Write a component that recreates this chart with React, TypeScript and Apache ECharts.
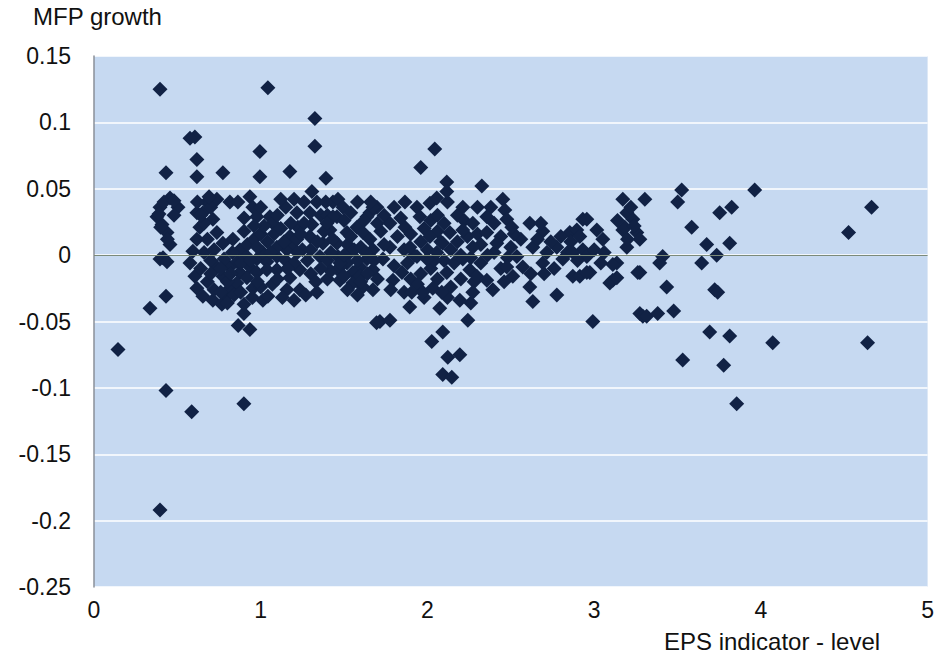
import React, { useEffect, useRef } from "react";
import * as echarts from "echarts";

// Axis ticks
const xTicks = [0, 1, 2, 3, 4, 5];
const yTicks = [-0.25, -0.2, -0.15, -0.1, -0.05, 0, 0.05, 0.1, 0.15];

// Points: [EPS indicator level, MFP growth]
const ptsLeft: number[][] = [
  [0.144, -0.071], [0.336, -0.040], [0.396, 0.125], [0.396, -0.192], [0.432, -0.102],
  [0.432, -0.031], [0.432, 0.062], [0.605, 0.089], [0.576, 0.088], [0.617, 0.072],
  [0.617, 0.059], [0.773, 0.062], [0.586, -0.118], [0.456, 0.043], [0.504, 0.036],
  [0.396, 0.036], [0.378, 0.029], [0.408, 0.023], [0.438, 0.017], [0.456, 0.008],
  [0.414, -0.002], [0.396, -0.003], [0.438, -0.005], [0.617, 0.032],
  [0.42, 0.040], [0.48, 0.041], [0.39, 0.031], [0.40, 0.021], [0.44, 0.012], [0.48, 0.030],
];

const ptsBlobA: number[][] = [
  [0.677, 0.040], [0.737, 0.042], [0.815, 0.040], [0.863, 0.040], [0.935, 0.044],
  [0.953, 0.036], [0.977, 0.029], [1.055, 0.029], [1.073, 0.024], [0.653, 0.032],
  [0.635, 0.021], [0.617, 0.012], [0.593, 0.003], [0.576, -0.006], [0.605, -0.016],
  [0.617, -0.025], [0.653, -0.031], [0.713, -0.034], [0.767, -0.037], [0.797, -0.031],
  [0.815, -0.025], [0.713, 0.027], [0.737, 0.017], [0.773, 0.009], [0.833, 0.012],
  [0.875, 0.004], [0.917, -0.001], [0.977, -0.003], [1.037, -0.005], [1.097, -0.001],
  [1.157, 0.004], [1.193, 0.009], [1.175, 0.014], [1.097, 0.006], [1.013, 0.002],
  [0.935, -0.009], [0.875, -0.013], [0.815, -0.009], [0.737, -0.009], [0.773, -0.016],
  [0.857, -0.021], [0.917, -0.017], [0.977, -0.013], [1.037, -0.011], [1.097, -0.011],
  [0.953, -0.025], [1.013, -0.034], [1.043, -0.031], [1.157, -0.026], [1.235, -0.026],
  [1.337, -0.028], [1.175, -0.017], [1.235, -0.011], [1.217, 0.032], [1.223, 0.021],
  [1.217, 0.012], [1.295, 0.032], [1.307, 0.023], [1.295, 0.014], [1.373, 0.009],
  [1.355, -0.001], [1.337, 0.040], [1.307, 0.048], [1.433, 0.040], [1.457, 0.029],
  [1.415, 0.019], [1.457, 0.009], [1.463, -0.001], [1.463, -0.011],
  [0.995, 0.078], [0.995, 0.059], [1.043, 0.126], [1.325, 0.103], [1.325, 0.082],
  [1.175, 0.063], [1.391, 0.058], [0.899, -0.044], [0.865, -0.053], [0.935, -0.056],
  [0.899, -0.112],
];

const ptsBlobAFill: number[][] = [
  [0.70, 0.036], [0.66, 0.024], [0.68, 0.012], [0.66, 0.002], [0.70, -0.004],
  [0.64, -0.010], [0.68, -0.020], [0.72, -0.026], [0.76, -0.028], [0.80, -0.020],
  [0.84, -0.030], [0.88, -0.028], [0.78, -0.003], [0.83, 0.002], [0.86, -0.005],
  [0.92, 0.008], [0.96, 0.012], [1.00, 0.016], [1.04, 0.010], [1.08, 0.016],
  [1.12, 0.020], [1.14, 0.010], [1.10, 0.030], [1.02, 0.022], [0.96, 0.022],
  [0.90, 0.028], [0.90, 0.018], [1.00, 0.036], [1.15, 0.036], [1.20, 0.042],
  [1.26, 0.040], [1.25, 0.004], [1.28, -0.004], [1.30, -0.014], [1.33, -0.020],
  [1.40, -0.004], [1.40, -0.018], [1.36, 0.030], [1.39, 0.040], [1.27, -0.030],
  [1.20, -0.034], [1.13, -0.032], [1.07, -0.022], [1.00, -0.024], [0.95, -0.032],
  [0.90, -0.037], [1.15, -0.004], [1.20, -0.006], [0.69, 0.044], [0.62, 0.040],
  [1.42, 0.002], [1.42, -0.012], [1.38, 0.018], [1.26, 0.024], [1.34, 0.010],
  [0.64, 0.030], [0.72, 0.004], [0.76, -0.010], [0.82, -0.014], [0.88, -0.006],
  [0.94, -0.004], [0.98, 0.006], [1.06, 0.002], [1.10, -0.018], [1.16, -0.010],
  [1.22, 0.002], [1.24, 0.016], [1.30, 0.004], [1.36, -0.010], [1.40, 0.030],
  [1.18, 0.024], [1.12, 0.042], [0.98, -0.020], [0.70, -0.014], [0.80, -0.036],
];

const ptsBlobB: number[][] = [
  [1.463, 0.042], [1.493, 0.036], [1.433, 0.029], [1.397, 0.024], [1.433, 0.012],
  [1.517, 0.017], [1.577, 0.021], [1.613, 0.017], [1.655, 0.012], [1.673, 0.004],
  [1.637, -0.003], [1.595, -0.009], [1.553, -0.013], [1.517, -0.006], [1.475, -0.009],
  [1.475, -0.019], [1.553, -0.021], [1.613, -0.024], [1.673, -0.026], [1.697, 0.036],
  [1.655, 0.032], [1.673, 0.036], [1.637, 0.029], [1.535, 0.002], [1.475, -0.006],
  [1.595, -0.016], [1.673, -0.011], [1.733, -0.003], [1.775, 0.006], [1.775, 0.024],
  [1.865, 0.021], [1.793, -0.019], [1.847, -0.013], [1.715, -0.050], [1.775, -0.049],
  [1.695, -0.051],
];

const ptsBlobBFill: number[][] = [
  [1.50, 0.026], [1.54, 0.032], [1.58, 0.040], [1.52, 0.008], [1.56, 0.004],
  [1.60, 0.006], [1.63, 0.002], [1.58, -0.004], [1.50, -0.016], [1.52, -0.026],
  [1.58, -0.030], [1.64, -0.014], [1.70, -0.018], [1.72, 0.018], [1.74, 0.030],
  [1.80, 0.036], [1.82, 0.014], [1.70, 0.024], [1.66, 0.040], [1.80, -0.008],
  [1.86, 0.004], [1.88, -0.006], [1.90, 0.016], [1.96, 0.010], [1.98, 0.020],
  [2.02, 0.026], [2.06, 0.030], [2.10, 0.024], [2.06, 0.018], [2.10, -0.004],
  [2.14, 0.004], [2.18, 0.010], [2.16, -0.006], [2.02, -0.010], [1.96, -0.014],
  [1.90, -0.018], [2.06, -0.018], [2.14, -0.024], [2.20, -0.018], [2.24, 0.014],
  [2.30, 0.016], [2.32, 0.008], [2.26, -0.002], [2.32, -0.006], [2.40, 0.002],
  [2.44, 0.014], [2.40, 0.024], [2.44, -0.010], [2.46, -0.020], [2.30, 0.036],
  [2.18, 0.030], [2.12, 0.040], [1.98, -0.032], [2.26, -0.036], [2.50, 0.006],
  [2.56, 0.012], [1.78, -0.026], [1.86, -0.028],
  [1.54, 0.014], [1.60, -0.020], [1.68, -0.004], [1.74, 0.008], [1.84, 0.028],
  [1.92, 0.000], [1.94, -0.022], [2.00, 0.004], [2.04, -0.004], [2.08, 0.010],
  [2.20, 0.000], [2.22, 0.026], [2.28, -0.020], [2.36, 0.000], [2.38, 0.036],
  [2.48, -0.002], [2.52, 0.016], [2.12, -0.032], [1.62, 0.026], [1.50, 0.000],
];

const ptsMid: number[][] = [
  [2.044, 0.080], [1.960, 0.066], [2.116, 0.055], [2.116, 0.048], [2.326, 0.052],
  [2.212, 0.036], [1.865, 0.040], [1.937, 0.036], [2.015, 0.039], [2.056, 0.043],
  [1.955, 0.029], [1.895, 0.006], [1.937, -0.001], [1.997, -0.003], [2.056, 0.002],
  [2.092, 0.009], [2.015, 0.014], [2.134, 0.017], [2.212, 0.019], [2.272, 0.024],
  [2.356, 0.029], [2.452, 0.042], [2.464, 0.034], [2.476, 0.027], [2.506, 0.021],
  [2.356, 0.017], [2.416, 0.009], [2.272, 0.006], [2.212, -0.003], [2.254, -0.011],
  [2.296, -0.016], [2.356, -0.019], [2.392, -0.026], [2.476, -0.009], [2.512, -0.016],
  [2.536, -0.001], [2.116, -0.013], [1.906, -0.028], [1.972, -0.028], [2.032, -0.025],
  [2.086, -0.028], [1.894, -0.039], [2.074, -0.040], [2.194, -0.034], [2.272, -0.028],
  [2.242, -0.049], [2.092, -0.058], [2.026, -0.065], [2.122, -0.077], [2.194, -0.075],
  [2.092, -0.090], [2.146, -0.092], [2.614, 0.024], [2.692, 0.018], [2.632, 0.006],
  [2.716, 0.002], [2.692, -0.006], [2.776, 0.006], [2.812, -0.003], [2.854, 0.017],
  [2.896, 0.019], [2.872, -0.016], [2.614, -0.024], [2.632, -0.035], [2.776, -0.030],
  [2.572, -0.009],
  [2.66, 0.012], [2.74, 0.010], [2.80, 0.014], [2.84, 0.002], [2.70, -0.014],
  [2.62, -0.014], [2.68, 0.024], [2.76, -0.010], [2.86, 0.010],
];

const ptsRight: number[][] = [
  [2.932, 0.027], [3.016, 0.019], [3.052, 0.012], [2.914, 0.014], [2.932, 0.004],
  [2.872, 0.002], [2.974, -0.013], [2.914, -0.016], [3.172, 0.042], [3.196, 0.032],
  [3.232, 0.027], [3.172, 0.019], [3.256, 0.017], [3.196, 0.006], [3.136, -0.006],
  [3.112, -0.019], [3.274, -0.013], [3.304, 0.042], [3.274, -0.044], [2.992, -0.050],
  [3.292, -0.046], [2.956, 0.027], [2.956, -0.001], [2.956, -0.013], [3.184, 0.021],
  [3.274, 0.012], [3.094, -0.021], [3.262, -0.013], [3.112, -0.007], [3.136, -0.017],
  [3.525, 0.049], [3.501, 0.040], [3.585, 0.021], [3.411, -0.001], [3.393, -0.006],
  [3.435, -0.024], [3.675, 0.008], [3.735, 0.000], [3.645, -0.006], [3.813, 0.009],
  [3.753, 0.032], [3.825, 0.036], [3.723, -0.026], [3.741, -0.028], [3.963, 0.049],
  [3.315, -0.046], [3.381, -0.044], [3.477, -0.042], [3.693, -0.058], [3.813, -0.061],
  [4.071, -0.066], [3.531, -0.079], [3.777, -0.083], [3.855, -0.112],
  [4.664, 0.036], [4.526, 0.017], [4.640, -0.066],
  [2.90, -0.004], [3.00, 0.004], [3.04, -0.006], [3.20, 0.012], [3.22, 0.036],
  [3.06, 0.002], [3.14, 0.026], [3.24, 0.022],
];

const allPoints = [
  ...ptsLeft, ...ptsBlobA, ...ptsBlobAFill, ...ptsBlobB, ...ptsBlobBFill, ...ptsMid, ...ptsRight,
];

const fmt = (v: number) => String(parseFloat(v.toFixed(2)));

export default function App() {
  const ref = useRef<HTMLDivElement>(null);
  useEffect(() => {
    if (!ref.current) return;
    const chart = echarts.init(ref.current, undefined, { renderer: "svg" });
    const font = "'Liberation Sans', Arial, sans-serif";
    chart.setOption({
      animation: false,
      backgroundColor: "#ffffff",
      grid: {
        left: 94,
        right: 9,
        top: 56,
        bottom: 74,
        show: true,
        backgroundColor: "#c6d9f1",
        borderWidth: 0,
      },
      xAxis: {
        type: "value",
        min: xTicks[0],
        max: xTicks[xTicks.length - 1],
        interval: 1,
        axisLine: { show: false },
        axisTick: { show: false },
        splitLine: { show: false },
        axisLabel: {
          color: "#111111",
          fontFamily: font,
          fontSize: 23,
          margin: 11,
          formatter: (v: number) => fmt(v),
        },
      },
      yAxis: {
        type: "value",
        min: yTicks[0],
        max: yTicks[yTicks.length - 1],
        interval: 0.05,
        axisLine: { show: true, lineStyle: { color: "#8a8f98", width: 1.5 } },
        axisTick: { show: false },
        splitLine: { show: true, lineStyle: { color: "#ffffff", width: 1.5 } },
        axisLabel: {
          color: "#111111",
          fontFamily: font,
          fontSize: 23,
          margin: 23,
          formatter: (v: number) => fmt(v),
        },
      },
      graphic: [
        {
          type: "text",
          left: 33,
          top: 4,
          style: { text: "MFP growth", fontFamily: font, fontSize: 24, fill: "#111111" },
        },
        {
          type: "text",
          left: 664,
          top: 629,
          style: { text: "EPS indicator - level", fontFamily: font, fontSize: 24, fill: "#111111" },
        },
      ],
      series: [
        {
          type: "scatter",
          symbol: "diamond",
          symbolSize: 15,
          itemStyle: { color: "#112245", opacity: 1 },
          data: allPoints,
          markLine: {
            silent: true,
            symbol: "none",
            label: { show: false },
            lineStyle: { color: "#7b8a7a", width: 1.2, type: "solid" },
            data: [{ yAxis: 0 }],
          },
          z: 3,
        },
      ],
    });
    return () => chart.dispose();
  }, []);
  return (
    <div
      ref={ref}
      style={{ position: "absolute", left: 0, top: 0, width: 937, height: 661 }}
    />
  );
}
